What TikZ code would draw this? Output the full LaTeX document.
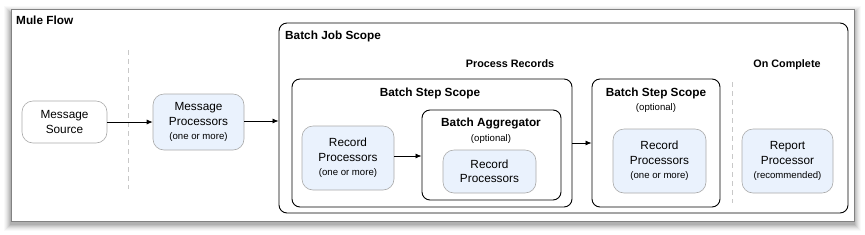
\documentclass[tikz,border=0pt]{standalone}
\usepackage{fontspec}
\setmainfont{Liberation Sans}
\usetikzlibrary{arrows.meta}
\definecolor{boxblue}{RGB}{234,242,253}
\definecolor{boxgray}{RGB}{170,170,170}
\definecolor{framegray}{RGB}{130,130,130}
\definecolor{dashgray}{RGB}{200,200,200}
\tikzset{
  proc/.style={draw=boxgray, fill=boxblue, rounded corners=11pt, align=center, inner sep=0pt,
    font=\fontsize{11.8}{14.5}\selectfont, line width=0.6pt},
  srcbox/.style={proc, fill=white},
  scopebox/.style={draw=black, rounded corners=8pt, line width=0.9pt, inner sep=0pt},
  ttl/.style={font=\fontsize{11.8}{13}\selectfont\bfseries, inner sep=0pt},
  sect/.style={font=\fontsize{10.8}{13}\selectfont\bfseries, inner sep=0pt},
  sub/.style={font=\fontsize{9.6}{12}\selectfont, inner sep=0pt},
  flow/.style={-{Latex[length=6pt,width=5pt]}, line width=0.8pt, black},
  sep/.style={draw=dashgray, dash pattern=on 5pt off 4pt, line width=0.7pt},
}
\newcommand{\smalltxt}[1]{{\fontsize{9.6}{14.5}\selectfont #1}}
\begin{document}
\begin{tikzpicture}[x=1pt,y=-1pt]
\useasboundingbox (0,0) rectangle (865,234);
% shadow
\foreach \d/\o in {7/0.025,6/0.03,5/0.04,4/0.05,3/0.06,2/0.07,1/0.08}{
  \fill[black,opacity=\o] (11-\d,9.5-\d+3) rectangle (854+\d,221+\d+3);
}
% Mule Flow frame
\draw[fill=white, draw=framegray, line width=0.8pt] (11,9.5) rectangle (854,221);
\node[ttl, anchor=base west] (mf) at (16,24) {Mule Flow};
% separator
\coordinate (s1a) at (128,50); \coordinate (s1b) at (128,189);
\draw[sep] (s1a) -- (s1b);
% Message source and processors
\node[srcbox, minimum width=85pt, minimum height=42pt] (ms) at (64.5,122) {Message\\Source};
\node[proc, minimum width=91pt, minimum height=56pt] (mp) at (198.5,122) {Message\\Processors\\\smalltxt{(one or more)}};
% Batch job scope
\node[scopebox, minimum width=569pt, minimum height=190pt] (bj) at (563.5,118) {};
\node[ttl, anchor=base west] (bjt) at (285,39) {Batch Job Scope};
\node[sect, anchor=base] (pr) at (510,67) {Process Records};
\node[sect, anchor=base] (oc) at (787,67) {On Complete};
% Batch step scope 1
\node[scopebox, minimum width=280pt, minimum height=128pt] (bs1) at (432,143) {};
\node[ttl, anchor=base] (bs1t) at (430,96) {Batch Step Scope};
\node[proc, minimum width=92pt, minimum height=64pt] (rp1) at (348,158) {Record\\Processors\\\smalltxt{(one or more)}};
% Batch aggregator
\node[scopebox, minimum width=139pt, minimum height=90pt] (ba) at (491.5,155) {};
\node[ttl, anchor=base] (bat) at (491,126) {Batch Aggregator};
\node[sub, anchor=base] (bao) at (491,141) {(optional)};
\node[proc, minimum width=93pt, minimum height=43pt] (rp2) at (489.5,171.5) {Record\\Processors};
% Batch step scope 2
\node[scopebox, minimum width=128pt, minimum height=128pt] (bs2) at (656,143) {};
\node[ttl, anchor=base] (bs2t) at (656,96) {Batch Step Scope};
\node[sub, anchor=base] (bs2o) at (656,110) {(optional)};
\node[proc, minimum width=93pt, minimum height=64pt] (rp3) at (659.5,161) {Record\\Processors\\\smalltxt{(one or more)}};
% separator 2
\coordinate (s2a) at (732,82); \coordinate (s2b) at (732,203);
\draw[sep] (s2a) -- (s2b);
\node[proc, minimum width=91pt, minimum height=64pt] (rep) at (787.5,161) {Report\\Processor\\\smalltxt{(recommended)}};
% connectors
\draw[flow] (ms.east) -- (mp.west);
\draw[flow] (mp.east |- 0,121) -- (bj.west |- 0,121);
\draw[flow] (rp1.east |- 0,156) -- (ba.west |- 0,156);
\draw[flow] (bs1.east |- 0,143) -- (bs2.west |- 0,143);
\end{tikzpicture}
\end{document}
